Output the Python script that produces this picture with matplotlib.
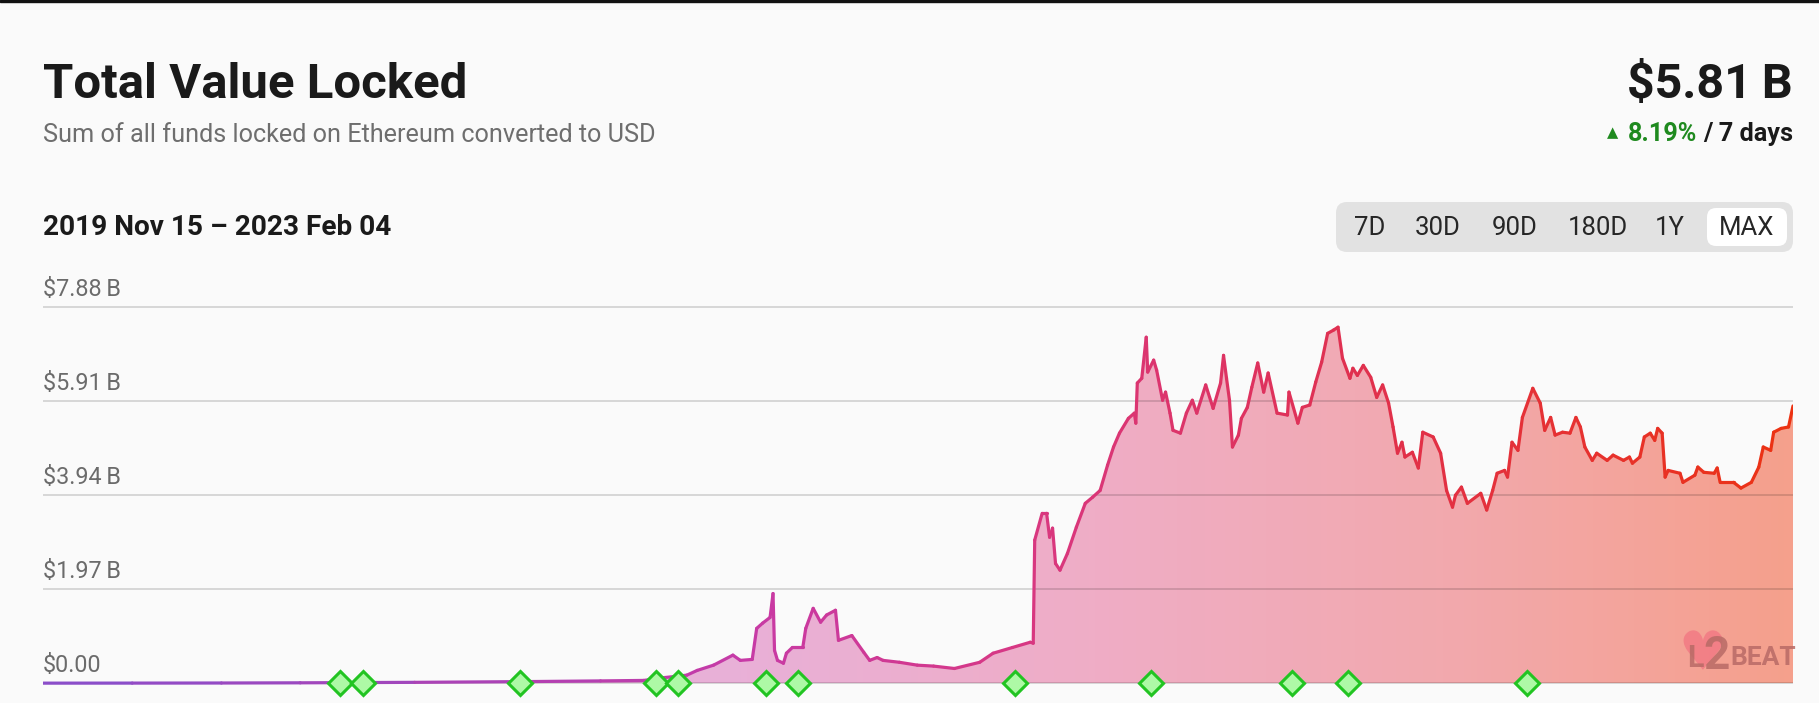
import numpy as np
import matplotlib
matplotlib.use('Agg')
import matplotlib.pyplot as plt
import matplotlib.dates as mdates
import matplotlib.transforms as mtransforms
from matplotlib.collections import LineCollection
from matplotlib.colors import LinearSegmentedColormap
from matplotlib.patches import FancyBboxPatch, Rectangle, PathPatch
from matplotlib.textpath import TextPath
from matplotlib.font_manager import FontProperties

plt.rcParams['font.family'] = ['Roboto', 'DejaVu Sans']

# dados (dias desde 2019-11-15, TVL em bilhões de USD)
start = np.datetime64('2019-11-15')
day = [0, 60, 120, 173, 250, 323, 375, 404, 418, 433, 440, 451, 464, 469, 477, 480, 484, 489, 491, 492,
       494, 498, 500, 504, 511, 513, 518, 523, 527, 533, 535, 544, 552, 556, 561, 565, 576, 588, 599, 613,
       630, 639, 652, 664, 666, 667, 672, 675, 677, 679, 681, 684, 689, 695, 701, 706, 711, 716, 720, 724,
       730, 734, 735, 736, 739, 742, 743, 747, 749, 753, 755, 758, 760, 765, 769, 773, 776, 782, 787, 792,
       794, 796, 798, 800, 804, 806, 810, 813, 817, 821, 824, 830, 837, 838, 844, 847, 852, 856, 860, 864,
       868, 871, 874, 879, 881, 884, 888, 893, 897, 901, 905, 908, 911, 914, 916, 921, 925, 928, 935, 940,
       944, 948, 950, 954, 958, 967, 971, 975, 978, 983, 985, 988, 992, 995, 1002, 1007, 1010, 1014, 1017, 1022,
       1027, 1031, 1034, 1037, 1042, 1045, 1052, 1056, 1063, 1067, 1069, 1074, 1077, 1081, 1084, 1086, 1089, 1091, 1093, 1101,
       1103, 1111, 1113, 1117, 1124, 1126, 1128, 1137, 1142, 1149, 1154, 1157, 1162, 1164, 1169, 1174, 1177]
tvl = [0.003, 0.004, 0.006, 0.01, 0.02, 0.035, 0.05, 0.06, 0.12, 0.17, 0.27, 0.38, 0.59, 0.48, 0.50, 1.15, 1.26, 1.38, 1.88, 0.69,
       0.48, 0.42, 0.63, 0.75, 0.75, 1.15, 1.57, 1.28, 1.43, 1.53, 0.90, 1.00, 0.65, 0.48, 0.54, 0.48, 0.44, 0.38, 0.36, 0.31,
       0.44, 0.63, 0.75, 0.86, 0.84, 3.00, 3.56, 3.56, 3.06, 3.25, 2.51, 2.37, 2.72, 3.27, 3.77, 3.90, 4.04, 4.57, 4.95, 5.24,
       5.55, 5.66, 5.45, 6.29, 6.39, 7.25, 6.52, 6.77, 6.56, 5.93, 6.10, 5.66, 5.30, 5.24, 5.66, 5.93, 5.66, 6.25, 5.76, 6.29,
       6.87, 6.39, 5.93, 4.95, 5.20, 5.55, 5.78, 6.20, 6.71, 6.10, 6.50, 5.66, 5.62, 6.10, 5.45, 5.78, 5.83, 6.31, 6.73, 7.33,
       7.40, 7.46, 6.81, 6.39, 6.60, 6.45, 6.66, 6.41, 5.99, 6.25, 5.87, 5.37, 4.82, 5.05, 4.74, 4.84, 4.51, 5.26, 5.16, 4.82,
       4.04, 3.69, 3.94, 4.11, 3.77, 3.98, 3.63, 4.04, 4.40, 4.46, 4.32, 5.05, 4.88, 5.57, 6.18, 5.87, 5.30, 5.57, 5.20, 5.26,
       5.24, 5.57, 5.37, 4.95, 4.67, 4.82, 4.67, 4.78, 4.67, 4.74, 4.61, 4.74, 5.16, 5.24, 5.09, 5.34, 5.24, 4.32, 4.46, 4.40,
       4.21, 4.36, 4.53, 4.42, 4.40, 4.51, 4.21, 4.21, 4.09, 4.21, 4.53, 4.95, 4.88, 5.26, 5.34, 5.37, 5.81]

tick_vals = [0.0, 1.97, 3.94, 5.91, 7.88]
tick_labels = ['\\$0.00', '\\$1.97\u2009B', '\\$3.94\u2009B', '\\$5.91\u2009B', '\\$7.88\u2009B']
event_day = [200, 215, 321, 412, 427, 486, 508, 654, 745, 840, 878, 998]
ranges = ['7D', '30D', '90D', '180D', '1Y', 'MAX']

W, H = 1819, 703
fig = plt.figure(figsize=(W / 100, H / 100), dpi=100, facecolor='#fafafa')


def fx(px):
    return px / W


def fy(py):
    return 1 - py / H


ax = fig.add_axes([fx(43), 3 / H, 1750 / W, 400 / H])
ax.set_facecolor('none')
ax.axis('off')

x = mdates.date2num(start + np.array(day).astype('timedelta64[D]'))
y = np.array(tvl)
ex = mdates.date2num(start + np.array(event_day).astype('timedelta64[D]'))
ax.set_xlim(x[0], x[-1])
ax.set_ylim(-0.35, 8.03)

line_cmap = LinearSegmentedColormap.from_list('linha', [(0, '#8b4ec9'), (0.4, '#c73aa6'), (0.57, '#d9377f'),
                                                        (0.75, '#e0304f'), (1, '#ec3212')])
fill_cmap = LinearSegmentedColormap.from_list('area', [(0, '#e2b4e4'), (0.4, '#e9b0d7'), (0.6, '#efadc6'),
                                                       (0.8, '#f2a9ae'), (1, '#f5a08c')])

# área com gradiente
poly = ax.fill_between(x, y, 0, color='none', lw=0)
grad = np.linspace(0, 1, 512).reshape(1, -1)
im = ax.imshow(grad, cmap=fill_cmap, aspect='auto', extent=[x[0], x[-1], 0, 8.03],
               origin='lower', zorder=1, interpolation='bilinear')
im.set_clip_path(poly.get_paths()[0], transform=ax.transData)

# grade horizontal
for v in tick_vals:
    ax.axhline(v, color=(0, 0, 0, 0.14), lw=1.4, zorder=2)
lab_tr = mtransforms.offset_copy(ax.get_yaxis_transform(), fig=fig, y=11, units='dots')
for v, t in zip(tick_vals, tick_labels):
    ax.text(0, v, t, transform=lab_tr, ha='left', va='baseline', fontsize=16.8, color='#6b6b6b')

# linha com gradiente
pts = np.column_stack([x, y]).reshape(-1, 1, 2)
segs = np.concatenate([pts[:-1], pts[1:]], axis=1)
lc = LineCollection(segs, cmap=line_cmap, linewidths=2.3, zorder=4, capstyle='round', joinstyle='round')
lc.set_array((x[:-1] - x[0]) / (x[-1] - x[0]))
lc.set_clim(0, 1)
ax.add_collection(lc)

# marcadores de eventos
ax.plot(ex, np.zeros(len(ex)), 'D', ms=12.5, mfc='#aef9a6', mec='#22c422', mew=2.2,
        clip_on=False, zorder=6)

# logo (coração desenhado como forma)
heart = TextPath((0, 0), '\u2665', size=54, prop=FontProperties(family='DejaVu Sans'))
hb = heart.get_extents()
heart_tr = (mtransforms.Affine2D().translate(-(hb.x0 + hb.x1) / 2, -(hb.y0 + hb.y1) / 2)
            + mtransforms.Affine2D().translate(1703, H - 650))
fig.patches.append(PathPatch(heart, transform=heart_tr, fc='#f27a84', ec='none', alpha=0.85, zorder=5))
narrow = ['Liberation Sans Narrow', 'Roboto']
fig.text(fx(1687), fy(667), 'L', family=narrow, fontsize=22, fontweight='bold', color='#b86a66',
         alpha=0.85, ha='left', va='baseline', zorder=6)
fig.text(fx(1703), fy(669), '2', family=narrow, fontsize=33, fontweight='bold', color='#b86a66',
         alpha=0.85, ha='left', va='baseline', zorder=6)
fig.text(fx(1730), fy(665), 'BEAT', family=narrow, fontsize=19, fontweight='bold', color='#b86a66',
         alpha=0.85, ha='left', va='baseline', zorder=6)

# cabeçalho
fig.patches.append(Rectangle((0, 1 - 2 / H), 1, 2 / H, transform=fig.transFigure, color='#111111'))
fig.text(fx(43), fy(98), 'Total Value Locked', fontsize=35.4, fontweight='bold', color='#1a1a1a')
fig.text(fx(43), fy(142), 'Sum of all funds locked on Ethereum converted to USD', fontsize=18.2,
         color='#6e6e6e')
fig.text(fx(1793), fy(98), '\\$5.81\u2009B', fontsize=34.8, fontweight='bold', color='#1a1a1a', ha='right')
fig.text(fx(1793), fy(141), '/ 7 days', fontsize=18.2, fontweight='bold', color='#1a1a1a', ha='right')
fig.text(fx(1697), fy(141), '8.19%', fontsize=18.2, fontweight='bold', color='#1f8a1f', ha='right')
fig.text(fx(1613), fy(137), '\u25B2', family='DejaVu Sans', fontsize=10.5, color='#1f8a1f',
         ha='center', va='baseline')
fig.text(fx(43), fy(235), '2019 Nov 15 \u2013 2023 Feb 04', fontsize=20.2, fontweight='bold', color='#1a1a1a')

# seletor de intervalo
fig.patches.append(FancyBboxPatch((fx(1336), fy(252)), fx(457), 50 / H,
                                  boxstyle='round,pad=0,rounding_size=0.006',
                                  transform=fig.transFigure, fc='#e2e2e2', ec='none',
                                  mutation_aspect=W / H))
fig.patches.append(FancyBboxPatch((fx(1707), fy(246)), fx(80), 38 / H,
                                  boxstyle='round,pad=0,rounding_size=0.005',
                                  transform=fig.transFigure, fc='white', ec='none',
                                  mutation_aspect=W / H))
for cx, r in zip([1370, 1438, 1515, 1598, 1670, 1747], ranges):
    fig.text(fx(cx), fy(228), r, fontsize=18.5, color='#262626', ha='center', va='center')

fig.savefig('out.png', dpi=100, facecolor=fig.get_facecolor())
